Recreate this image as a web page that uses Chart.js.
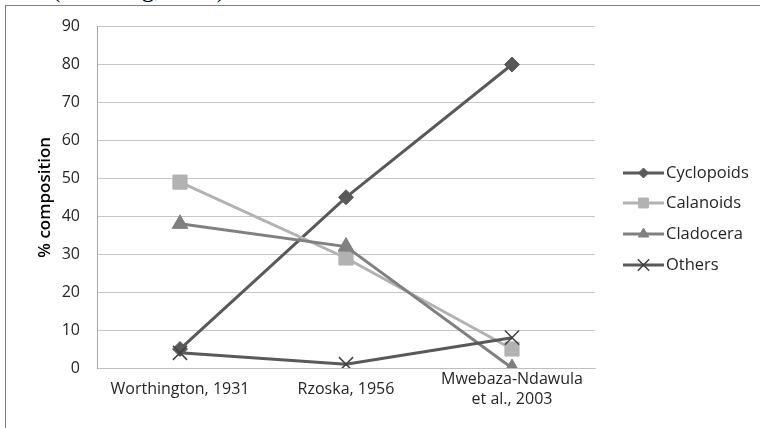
<!DOCTYPE html>
<html>
<head>
<meta charset="utf-8">
<script src="https://cdn.jsdelivr.net/npm/chart.js@4.4.0/dist/chart.umd.min.js"></script>
<style>
  html, body { margin: 0; padding: 0; background: #fff; overflow: hidden; }
  #wrap { position: relative; width: 760px; height: 428px; }
  #note { position: absolute; left: 52px; top: -25px; font: 25px "Liberation Serif", serif; color: #000; white-space: nowrap; }
  #box { position: absolute; left: 5px; top: 5px; width: 800px; height: 500px; border: 1.5px solid #7f7f7f; background: #fff; }
  canvas { position: absolute; left: 0; top: 0; }
</style>
</head>
<body>
<div id="wrap">
  <div id="note">(Worthing, 1931)</div>
  <div id="box"></div>
  <canvas id="chart" width="760" height="428"></canvas>
</div>
<script>
// data
const sources = [
  'Worthington, 1931',
  'Rzoska, 1956',
  ['Mwebaza-Ndawula', 'et al., 2003']
];
const seriesNames = ['Cyclopoids', 'Calanoids', 'Cladocera', 'Others'];
const cyclopoids = [5, 45, 80];
const calanoids = [49, 29, 5];
const cladocera = [38, 32, 0];
const others = [4, 1, 8];
const yTicks = [0, 10, 20, 30, 40, 50, 60, 70, 80, 90];

const tickFont = { family: 'Open Sans', size: 16 };
const textColor = '#262626';

// legend drawn by hand: line + marker, like the office style legend
const lineLegend = {
  id: 'lineLegend',
  afterDraw(chart) {
    const ctx = chart.ctx;
    const x0 = 623, x1 = 664, tx = 666;
    const ys = [173, 203, 234, 265];
    chart.data.datasets.forEach((ds, i) => {
      const y = ys[i];
      ctx.save();
      ctx.strokeStyle = ds.borderColor;
      ctx.lineWidth = ds.borderWidth;
      ctx.beginPath();
      ctx.moveTo(x0, y);
      ctx.lineTo(x1, y);
      ctx.stroke();
      ctx.fillStyle = ds.pointBackgroundColor;
      ctx.strokeStyle = ds.pointBorderColor;
      ctx.lineWidth = ds.pointBorderWidth;
      Chart.helpers.drawPoint(ctx, {
        pointStyle: ds.pointStyle,
        radius: ds.legendRadius,
        rotation: 0,
        borderWidth: ds.pointBorderWidth
      }, (x0 + x1) / 2, y);
      ctx.fillStyle = textColor;
      ctx.font = '16.5px "Open Sans"';
      ctx.textBaseline = 'middle';
      ctx.textAlign = 'left';
      ctx.fillText(ds.label, tx, y);
      ctx.restore();
    });
  }
};

new Chart(document.getElementById('chart'), {
  type: 'line',
  data: {
    labels: sources,
    datasets: [
      {
        label: seriesNames[0], data: cyclopoids, order: 4,
        borderColor: '#595959', borderWidth: 3,
        pointStyle: 'rectRot', pointRadius: 7.5, legendRadius: 5,
        pointBackgroundColor: '#595959', pointBorderColor: '#595959', pointBorderWidth: 1
      },
      {
        label: seriesNames[1], data: calanoids, order: 3,
        borderColor: '#b2b2b2', borderWidth: 3,
        pointStyle: 'rect', pointRadius: 10, legendRadius: 7,
        pointBackgroundColor: '#b2b2b2', pointBorderColor: '#b2b2b2', pointBorderWidth: 1
      },
      {
        label: seriesNames[2], data: cladocera, order: 2,
        borderColor: '#808080', borderWidth: 3,
        pointStyle: 'triangle', pointRadius: 9, legendRadius: 6,
        pointBackgroundColor: '#808080', pointBorderColor: '#808080', pointBorderWidth: 1
      },
      {
        label: seriesNames[3], data: others, order: 1,
        borderColor: '#595959', borderWidth: 3,
        pointStyle: 'crossRot', pointRadius: 10, legendRadius: 8,
        pointBackgroundColor: '#404040', pointBorderColor: '#404040', pointBorderWidth: 1.5
      }
    ]
  },
  options: {
    responsive: false,
    animation: false,
    layout: { padding: { top: 25, right: 165, bottom: 0, left: 0 } },
    plugins: {
      legend: { display: false },
      tooltip: { enabled: false }
    },
    scales: {
      x: {
        offset: true,
        grid: { display: false, drawTicks: false },
        border: { display: true, color: '#bfbfbf', width: 1 },
        ticks: {
          font: { ...tickFont, lineHeight: 1.3 },
          color: textColor,
          padding: 11,
          maxRotation: 0,
          autoSkip: false,
          crossAlign: 'center'
        },
        afterFit(scale) { scale.height = 60; }
      },
      y: {
        min: 0,
        max: 90,
        afterBuildTicks(scale) { scale.ticks = yTicks.map(v => ({ value: v })); },
        grid: { color: '#c6c6c6', lineWidth: 1, drawTicks: false },
        border: { display: true, color: '#a6a6a6', width: 1 },
        ticks: { font: tickFont, color: textColor, padding: 17 },
        title: {
          display: true,
          text: '% composition',
          font: { family: 'Open Sans', size: 17, weight: '600', lineHeight: 1.2 },
          color: '#000',
          padding: { top: 35, bottom: 0 }
        },
        afterFit(scale) { scale.width = 97; }
      }
    }
  },
  plugins: [lineLegend]
});
</script>
</body>
</html>
